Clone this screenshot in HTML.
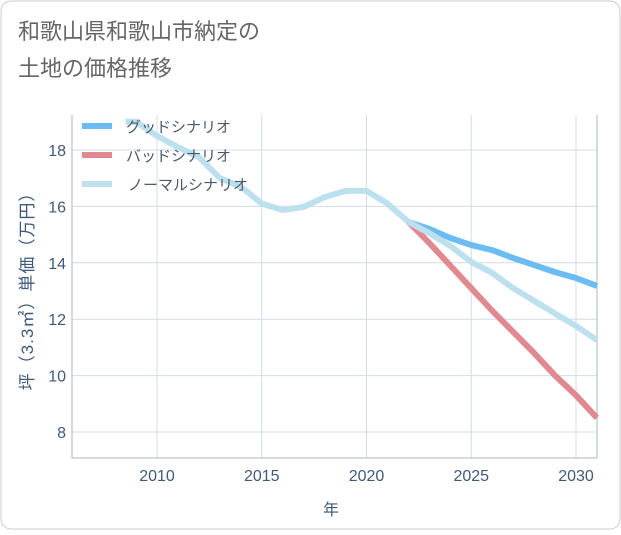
<!DOCTYPE html>
<html><head><meta charset="utf-8">
<style>
body{margin:0;background:#fff;font-family:"Liberation Sans","Noto Sans CJK JP",sans-serif;}
#wrap{position:relative;width:621px;height:530px;}
svg text{font-family:"Liberation Sans","Noto Sans CJK JP",sans-serif;}
</style></head><body>
<div id="wrap">
<svg id="chart" width="621" height="530">
<rect x="1" y="1" width="619" height="528" rx="10" fill="#fff" stroke="#ccc"/>
<text x="18" y="39" font-size="22" fill="#666">和歌山県和歌山市納定の</text>
<text x="18" y="76" font-size="22" fill="#666">土地の価格推移</text>
<g id="grid"></g><g id="series"></g><g id="legend"></g>
<text x="331" y="515" font-size="16" fill="#3f5a78" text-anchor="middle">年</text>
<text transform="translate(33,287) rotate(-90)" font-size="17" fill="#3f5a78" text-anchor="middle" letter-spacing="1">坪（3.3㎡）単価（万円）</text>
</svg></div>
<script>
const xTicks=[2010,2015,2020,2025,2030];
const yTicks=[8,10,12,14,16,18];
const years=[2008.5,2009,2010,2011,2012,2013,2014,2015,2016,2017,2018,2019,2020,2021,2022];
const histValues=[19.0,19.0,18.5,18.1,17.75,17.0,16.7,16.1,15.87,15.98,16.33,16.55,16.55,16.1,15.45];
const futYears=[2022,2023,2024,2025,2026,2027,2028,2029,2030,2031];
const goodValues=[15.45,15.2,14.88,14.63,14.45,14.17,13.92,13.67,13.46,13.18];
const badValues=[15.45,14.7,13.9,13.1,12.3,11.55,10.8,10.0,9.3,8.5];
const normalValues=[15.45,15.05,14.6,14.03,13.64,13.1,12.65,12.2,11.76,11.26];
const legendLabels=['グッドシナリオ','バッドシナリオ','ノーマルシナリオ'];
const colors=['#6bbcf2','#e08a90','#bde0ef'];
const L=72,R=597,T=115,B=458;
const X=v=>157+(v-2010)*(576-157)/20;
const Y=v=>150+(18-v)*(432-150)/10;
const NS='http://www.w3.org/2000/svg';
function mk(tag,attrs,parent){const e=document.createElementNS(NS,tag);for(const k in attrs)e.setAttribute(k,attrs[k]);parent.appendChild(e);return e;}
const grid=document.getElementById('grid');
xTicks.forEach(t=>{const l=mk('line',{x1:X(t),x2:X(t),y1:T,y2:B,stroke:'#d3dce6'},grid);


const tx=mk('text',{x:X(t),y:481,'font-size':16,fill:'#3f5a78','text-anchor':'middle'},grid);tx.textContent=t;

});
yTicks.forEach(t=>{const l=mk('line',{x1:L,x2:R,y1:Y(t),y2:Y(t),stroke:'#d3dce6'},grid);


const tx=mk('text',{x:66,y:Y(t)+6,'font-size':16,fill:'#3f5a78','text-anchor':'end'},grid);tx.textContent=t;

});
const ax=mk('path',{d:`M${L},${T}V${B}H${R}V${T}`,fill:'none',stroke:'#aab4bf'},grid);


const S=document.getElementById('series');
function line(xs,ys,c,name){const p=mk('polyline',{points:xs.map((x,i)=>X(x)+','+Y(ys[i])).join(' '),fill:'none',stroke:c,'stroke-width':6,'stroke-linejoin':'round'},S);

}
line(futYears,goodValues,colors[0],'good-scenario-line');
line(futYears,badValues,colors[1],'bad-scenario-line');
line(futYears,normalValues,colors[2],'normal-scenario-line');
line(years,histValues,colors[2],'historical-line');
const lg=document.getElementById('legend');
legendLabels.forEach((lab,i)=>{const y=126+i*29;
const g=mk('g',{},lg);


mk('line',{x1:82,x2:112,y1:y,y2:y,stroke:colors[i],'stroke-width':6},g);
const t=mk('text',{x:i==2?128:126,y:y+6,'font-size':15,fill:'#4a5a6a'},g);t.textContent=lab;});
</script>
</body></html>
